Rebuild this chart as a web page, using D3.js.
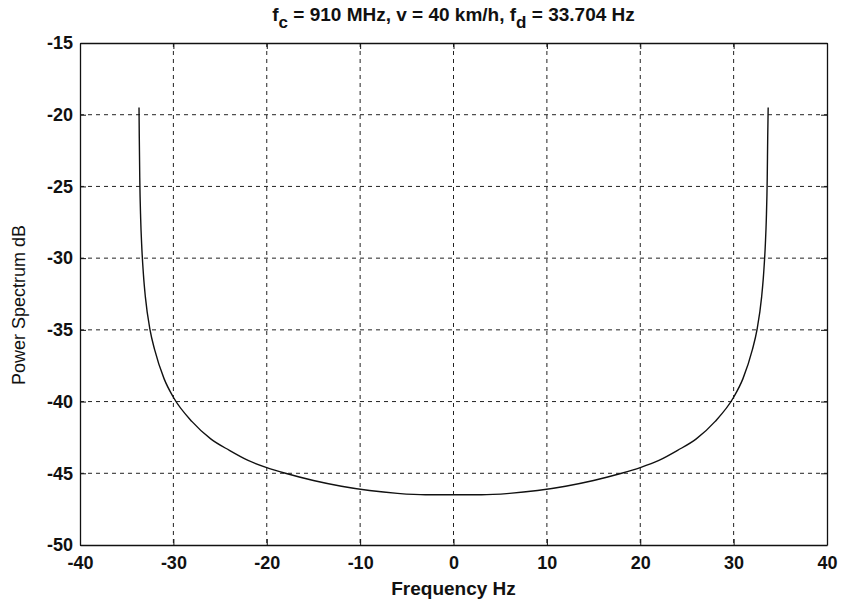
<!DOCTYPE html>
<html>
<head>
<meta charset="utf-8">
<script src="https://cdn.jsdelivr.net/npm/d3@7"></script>
<style>
  body { margin: 0; background: #fff; }
  svg text { font-family: "Liberation Sans", Arial, sans-serif; fill: #111; }
  .tick text { font-size: 18px; font-weight: bold; }
  .grid line { stroke: #222; stroke-width: 1; stroke-dasharray: 4,4; }
</style>
</head>
<body>
<svg width="844" height="605"></svg>
<script>
// spectrum (left half and right half)
var freqLeft = [-33.68, -33.65, -33.6, -33.5, -33.4, -33.2, -33.0, -32.5, -32.0, -31.0, -30.0,
  -28.0, -26.0, -24.0, -22.0, -20.0, -18.0, -15.0, -12.0, -9.0, -6.0, -3.0, 0];
var powLeft = [-19.5, -21.6, -24.4, -27.3, -29.0, -31.2, -32.7, -35.0, -36.4, -38.4, -39.7,
  -41.4, -42.6, -43.4, -44.1, -44.6, -45.0, -45.5, -45.9, -46.2, -46.4, -46.5, -46.5];
var freqRight = [3.0, 6.0, 9.0, 12.0, 15.0, 18.0, 20.0, 22.0, 24.0, 26.0, 28.0, 30.0,
  31.0, 32.0, 32.5, 33.0, 33.2, 33.4, 33.5, 33.6, 33.65, 33.7];
var powRight = [-46.5, -46.4, -46.2, -45.9, -45.5, -45.0, -44.6, -44.1, -43.4, -42.6, -41.4, -39.7,
  -38.4, -36.4, -35.0, -32.7, -31.2, -29.0, -27.3, -24.4, -21.6, -19.5];

var xTicks = [-40, -30, -20, -10, 0, 10, 20, 30, 40];
var yTicks = [-15, -20, -25, -30, -35, -40, -45, -50];

var svg = d3.select("svg"),
    margin = {top: 43, right: 17, bottom: 60, left: 80},
    width = 844 - margin.left - margin.right,
    height = 605 - margin.top - margin.bottom;

var x = d3.scaleLinear().domain([-40, 40]).range([0, width]);
var y = d3.scaleLinear().domain([-50, -15]).range([height, 0]);

// plain hyphen for negatives, like the original
var fmt = function(d) { return String(d); };

var g = svg.append("g")
  .attr("transform", "translate(" + margin.left + "," + margin.top + ")");

// dashed grid
g.append("g").attr("class", "grid")
  .selectAll("line").data(xTicks.slice(1, -1)).enter().append("line")
    .attr("x1", function(d) { return x(d); }).attr("x2", function(d) { return x(d); })
    .attr("y1", 0).attr("y2", height);
g.append("g").attr("class", "grid")
  .selectAll("line").data(yTicks.slice(1, -1)).enter().append("line")
    .attr("y1", function(d) { return y(d); }).attr("y2", function(d) { return y(d); })
    .attr("x1", 0).attr("x2", width);

// axes, ticks pointing inward
g.append("g")
  .attr("transform", "translate(0," + height + ")")
  .call(d3.axisBottom(x).tickValues(xTicks).tickFormat(fmt).tickSizeInner(-6).tickSizeOuter(0).tickPadding(11));
g.append("g")
  .call(d3.axisLeft(y).tickValues(yTicks).tickFormat(fmt).tickSizeInner(-6).tickSizeOuter(0).tickPadding(7));
g.append("g")
  .call(d3.axisTop(x).tickValues(xTicks).tickSizeInner(-6).tickSizeOuter(0).tickFormat(""));
g.append("g")
  .attr("transform", "translate(" + width + ",0)")
  .call(d3.axisRight(y).tickValues(yTicks).tickSizeInner(-6).tickSizeOuter(0).tickFormat(""));
g.selectAll(".domain").attr("stroke", "#111").attr("stroke-width", 1.3);
g.selectAll(".tick line").attr("stroke", "#111");

// spectrum curve
var pts = freqLeft.map(function(f, i) { return [f, powLeft[i]]; })
  .concat(freqRight.map(function(f, i) { return [f, powRight[i]]; }));
var line = d3.line()
  .x(function(d) { return x(d[0]); })
  .y(function(d) { return y(d[1]); })
  .curve(d3.curveMonotoneX);
g.append("path")
  .datum(pts)
  .attr("fill", "none")
  .attr("stroke", "#111")
  .attr("stroke-width", 1.4)
  .attr("d", line);

// title with subscripts
var title = svg.append("text")
  .attr("x", margin.left + width / 2)
  .attr("y", 21)
  .attr("text-anchor", "middle")
  .style("font-size", "19px")
  .style("font-weight", "bold");
title.append("tspan").text("f");
title.append("tspan").attr("dy", 7).style("font-size", "17px").text("c");
title.append("tspan").attr("dy", -7).text("  = 910 MHz, v = 40 km/h, f");
title.append("tspan").attr("dy", 7).style("font-size", "17px").text("d");
title.append("tspan").attr("dy", -7).text(" = 33.704 Hz");

svg.append("text")
  .attr("x", margin.left + width / 2)
  .attr("y", 595)
  .attr("text-anchor", "middle")
  .style("font-size", "19px")
  .style("font-weight", "bold")
  .text("Frequency Hz");

svg.append("text")
  .attr("transform", "translate(25,305) rotate(-90)")
  .attr("text-anchor", "middle")
  .style("font-size", "18px")
  .text("Power Spectrum dB");
</script>
</body>
</html>
